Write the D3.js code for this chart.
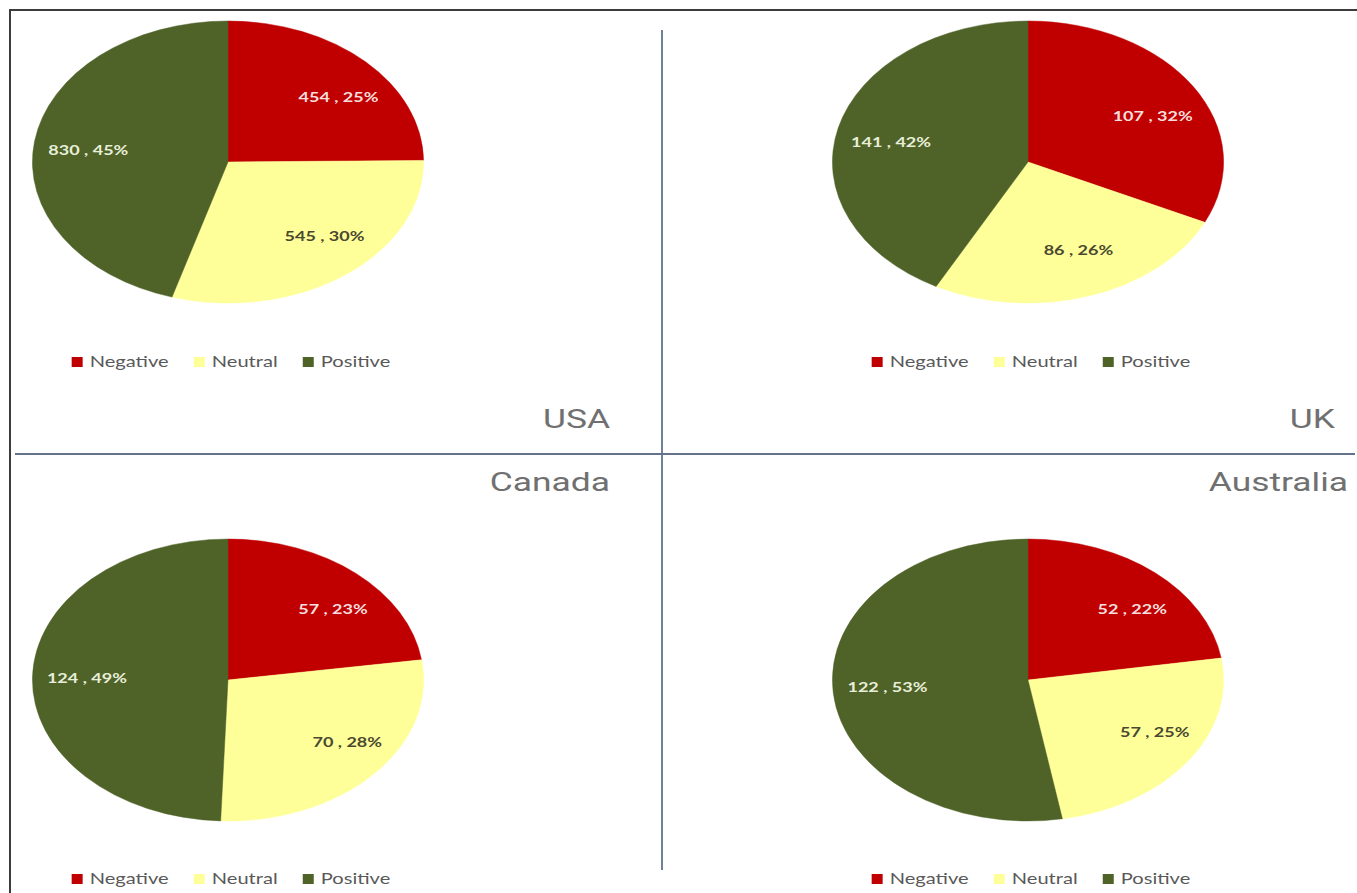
<!DOCTYPE html>
<html>
<head>
<meta charset="utf-8">
<script src="https://cdn.jsdelivr.net/npm/d3@7"></script>
<style>
  html, body { margin: 0; padding: 0; background: #ffffff; }
  svg { display: block; }
</style>
</head>
<body>
<svg id="chart" width="1357" height="893"></svg>
<script>
// Sentiment counts per country
const countries = ["USA", "UK", "Canada", "Australia"];
const sentiments = ["Negative", "Neutral", "Positive"];
const negativeCounts = [454, 107, 57, 52];
const neutralCounts = [545, 86, 70, 57];
const positiveCounts = [830, 141, 124, 122];

const sentimentColors = ["#C00000", "#FFFF99", "#4F6228"];
const labelColors = ["#F6DEDE", "#4A4930", "#E8EFD8"];

const W = 1357, H = 893;
const SX = 1.387;   // horizontal stretch of each panel
const R = 141;      // pie radius before stretching

const svg = d3.select("#chart");

// 2x2 grid of panels
const colX = d3.scaleOrdinal().domain([0, 1]).range([228, 1028]);
const rowY = d3.scaleOrdinal().domain([0, 1]).range([162, 680]);
const legendRowY = d3.scaleOrdinal().domain([0, 1]).range([362, 879]);
const titleRowY = d3.scaleOrdinal().domain([0, 1]).range([428, 491]);
const titleRight = [610, 1335, 610, 1348];

// Outer frame (left and top edges visible)
svg.append("path")
  .attr("d", `M10,${H + 5} V10 H${W + 5}`)
  .attr("fill", "none")
  .attr("stroke", "#3c3c3c")
  .attr("stroke-width", 2);

// Quadrant dividers
svg.append("line")
  .attr("x1", 662).attr("x2", 662).attr("y1", 30).attr("y2", 870)
  .attr("stroke", "#62738b").attr("stroke-width", 1.8);
svg.append("line")
  .attr("x1", 15).attr("x2", 1355).attr("y1", 454).attr("y2", 454)
  .attr("stroke", "#62738b").attr("stroke-width", 1.8);

// Percentages rounded so that each pie totals 100%
function roundedPercents(values) {
  const total = d3.sum(values);
  const raw = values.map(v => v / total * 100);
  const out = raw.map(Math.floor);
  let left = 100 - d3.sum(out);
  const order = d3.range(values.length).sort((a, b) => (raw[b] - out[b]) - (raw[a] - out[a]));
  for (let k = 0; k < left; k++) out[order[k]] += 1;
  return out;
}

const pie = d3.pie().sort(null).value(d => d);
const arc = d3.arc().innerRadius(0).outerRadius(R);

// Label position inside the slice, pulled in until the text box fits
function labelPos(d, w, h) {
  const a = (d.startAngle + d.endAngle) / 2;
  const x = 0.82 * R * Math.sin(a), y = -0.66 * R * Math.cos(a);
  const lim = R - 10;
  let s = 1;
  while (s > 0.3) {
    const fx = Math.abs(x * s) + w / 2, fy = Math.abs(y * s) + h / 2;
    if (Math.hypot(fx, fy) <= lim) break;
    s -= 0.01;
  }
  return [x * s, y * s];
}

countries.forEach((country, i) => {
  const col = i % 2, row = Math.floor(i / 2);
  const cx = colX(col), cy = rowY(row);
  const values = [negativeCounts[i], neutralCounts[i], positiveCounts[i]];
  const pct = roundedPercents(values);
  const arcs = pie(values);

  const panel = svg.append("g").attr("class", "panel");

  // slices
  panel.append("g")
    .attr("transform", `translate(${cx},${cy}) scale(${SX},1)`)
    .selectAll("path")
    .data(arcs)
    .join("path")
    .attr("d", arc)
    .attr("fill", (d, j) => sentimentColors[j])
    .attr("stroke", (d, j) => sentimentColors[j])
    .attr("stroke-width", 0.4);

  // data labels
  arcs.forEach((d, j) => {
    const t = panel.append("text")
      .text(`${values[j]} , ${pct[j]}%`)
      .attr("font-family", "Lato, 'Open Sans', sans-serif")
      .attr("font-weight", "bold")
      .attr("font-size", 13)
      .attr("fill", labelColors[j])
      .attr("text-anchor", "middle")
      .attr("dy", "0.35em");
    const w = t.node().getComputedTextLength();
    const [lx, ly] = labelPos(d, w, 14);
    t.attr("transform", `translate(${cx + lx * SX},${cy + ly}) scale(${SX},1)`);
  });

  // legend
  const lg = panel.append("g");
  const ly = legendRowY(row);
  const items = sentiments.map((s, j) => {
    const g = lg.append("g");
    g.append("rect")
      .attr("width", 11).attr("height", 10)
      .attr("y", -5)
      .attr("fill", sentimentColors[j]);
    const t = g.append("text")
      .text(s)
      .attr("font-family", "Lato, 'Open Sans', sans-serif")
      .attr("font-size", 14.5)
      .attr("fill", "#595959")
      .attr("dy", "0.35em");
    const tw = t.node().getComputedTextLength() * SX;
    return { g, t, tw };
  });
  const sq = 11, gapIn = 7, gapOut = 25;
  const totalW = d3.sum(items, it => sq + gapIn + it.tw) + gapOut * (items.length - 1);
  let x0 = cx + 3 - totalW / 2;
  items.forEach(it => {
    it.g.attr("transform", `translate(${x0},${ly})`);
    it.t.attr("transform", `translate(${sq + gapIn},0) scale(${SX},1)`);
    x0 += sq + gapIn + it.tw + gapOut;
  });

  // country title
  panel.append("text")
    .text(country)
    .attr("font-family", "Roboto, sans-serif")
    .attr("font-size", 25.5)
    .attr("fill", "#707070")
    .attr("text-anchor", "end")
    .attr("transform", `translate(${titleRight[i]},${titleRowY(row)}) scale(${SX},1)`);
});
</script>
</body>
</html>
